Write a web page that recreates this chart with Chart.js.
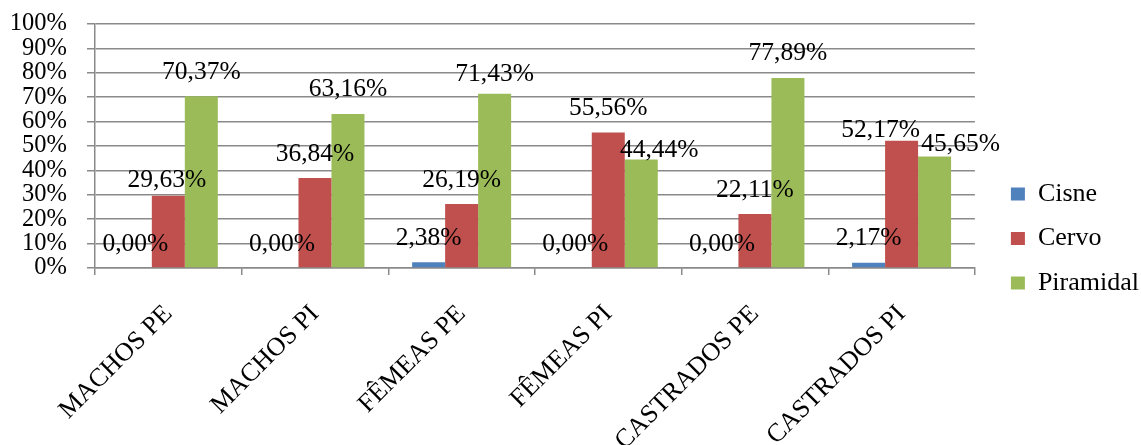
<!DOCTYPE html>
<html>
<head>
<meta charset="utf-8">
<title>Cisne / Cervo / Piramidal</title>
<script src="https://cdn.jsdelivr.net/npm/chart.js@4.4.1/dist/chart.umd.min.js"></script>
<style>
  html, body { margin: 0; padding: 0; background: #ffffff; }
  #wrap { width: 1141px; height: 445px; }
</style>
</head>
<body>
<div id="wrap"><canvas id="grafico" width="1141" height="445"></canvas></div>
<script>
// dados (%)
const categorias = ['MACHOS PE', 'MACHOS PI', 'FÊMEAS PE', 'FÊMEAS PI', 'CASTRADOS PE', 'CASTRADOS PI'];
const cisne = [0, 0, 2.38, 0, 0, 2.17];
const cervo = [29.63, 36.84, 26.19, 55.56, 22.11, 52.17];
const piramidal = [70.37, 63.16, 71.43, 44.44, 77.89, 45.65];
const marcasY = [0, 10, 20, 30, 40, 50, 60, 70, 80, 90, 100];

const fonte = "'Liberation Serif', 'Times New Roman', serif";
const corGrade = '#8a8a8a';

// ajustes manuais dos rótulos (como no original do Excel)
const ajusteRotulos = {
    'Cervo': { 0: [-1.5, 9], 5: [-21, 14] },
    'Piramidal': { 2: [0, 5], 3: [18, 15], 5: [26, 12] }
};

function formataPct(v) {
    return v.toFixed(2).replace('.', ',') + '%';
}

const rotulosPlugin = {
    id: 'rotulos',
    afterDatasetsDraw(chart) {
        const ctx = chart.ctx;
        ctx.save();
        ctx.font = '25.5px ' + fonte;
        ctx.fillStyle = '#000';
        ctx.textAlign = 'center';
        ctx.textBaseline = 'alphabetic';
        chart.data.datasets.forEach(function (ds, i) {
            const meta = chart.getDatasetMeta(i);
            const ajustes = ajusteRotulos[ds.label] || {};
            meta.data.forEach(function (bar, j) {
                const a = ajustes[j] || [0, 0];
                ctx.fillText(formataPct(ds.data[j]), bar.x + a[0], bar.y - 17.5 + a[1]);
            });
        });
        ctx.restore();
    }
};

const ctx = document.getElementById('grafico').getContext('2d');
new Chart(ctx, {
    type: 'bar',
    data: {
        labels: categorias,
        datasets: [
            { label: 'Cisne', data: cisne, backgroundColor: '#4F81BD' },
            { label: 'Cervo', data: cervo, backgroundColor: '#C0504D' },
            { label: 'Piramidal', data: piramidal, backgroundColor: '#9BBB59' }
        ]
    },
    options: {
        responsive: false,
        animation: false,
        layout: { padding: { top: 24, right: -8, bottom: 0, left: 0 } },
        datasets: {
            bar: { categoryPercentage: 0.675, barPercentage: 1.0 }
        },
        plugins: {
            tooltip: { enabled: false },
            legend: {
                position: 'right',
                title: { display: true, text: '', font: { size: 8, lineHeight: 1 }, padding: 0 },
                labels: {
                    boxWidth: 14,
                    boxHeight: 13,
                    padding: 18.5,
                    color: '#000',
                    font: { family: fonte, size: 26 }
                }
            }
        },
        scales: {
            x: {
                grid: {
                    display: true,
                    drawOnChartArea: false,
                    drawTicks: true,
                    tickLength: 7,
                    color: corGrade,
                    lineWidth: 1.5
                },
                border: { display: true, color: corGrade, width: 1.5 },
                ticks: {
                    color: '#000',
                    font: { family: fonte, size: 26 },
                    minRotation: 45,
                    maxRotation: 45,
                    autoSkip: false,
                    padding: 24
                },
                afterFit: function (scale) { scale.height = 177; }
            },
            y: {
                min: 0,
                max: 100,
                afterBuildTicks: function (scale) {
                    scale.ticks = marcasY.map(v => ({ value: v }));
                },
                grid: {
                    color: corGrade,
                    lineWidth: 1.5,
                    tickLength: 8
                },
                border: { display: true, color: corGrade, width: 1.5 },
                ticks: {
                    color: '#000',
                    autoSkip: false,
                    padding: 20,
                    font: { family: fonte, size: 24.5, lineHeight: 0.3 },
                    callback: v => v + '%'
                },
                afterFit: function (scale) { scale.width = 95; }
            },
            espaco: {
                type: 'linear',
                position: 'right',
                display: true,
                grid: { display: false, drawTicks: false },
                border: { display: false },
                ticks: { display: false },
                afterFit: function (scale) { scale.width = 17.5; }
            }
        }
    },
    plugins: [rotulosPlugin]
});
</script>
</body>
</html>
